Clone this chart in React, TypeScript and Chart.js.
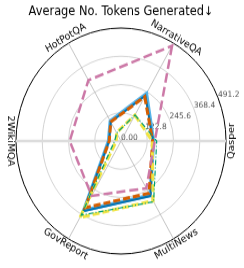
import { useEffect, useRef } from 'react';
import { Chart, registerables } from 'chart.js';

Chart.register(...registerables);

const TITLE = 'Average No. Tokens Generated↓';
const CATEGORIES = ['NarrativeQA', 'Qasper', 'MultiNews', 'GovReport', '2WikiMQA', 'HotPotQA'];
const TICK_VALUES = [0, 122.8, 245.6, 368.4, 491.2];
const TICK_LABELS = ['0.00', '122.8', '245.6', '368.4', '491.2'];

const PINK = [478, 158, 237, 275, 240, 305];
const SKY = [238, 152, 272, 348, 58, 100];
const BLUE = [228, 150, 276, 352, 56, 96];
const ORANGE = [222, 148, 262, 335, 55, 96];
const YELLOW = [130, 146, 300, 384, 22, 42];
const GREEN = [131, 167, 305, 372, 30, 40];

const FONT = '"DejaVu Sans", "Liberation Sans", sans-serif';

const labelPlugin = {
  id: 'customLabels',
  beforeDatasetsDraw(chart: any) {
    const scale = chart.scales.r;
    const ctx = chart.ctx;
    ctx.save();
    ctx.font = `7.5px ${FONT}`;
    ctx.fillStyle = '#555555';
    ctx.textAlign = 'left';
    ctx.textBaseline = 'bottom';
    const a = (-22.5 * Math.PI) / 180;
    TICK_VALUES.forEach((v, i) => {
      const d = scale.getDistanceFromCenterForValue(v);
      ctx.fillText(TICK_LABELS[i], scale.xCenter + Math.cos(a) * d, scale.yCenter + Math.sin(a) * d + 1);
    });
    ctx.restore();
  },
  afterDraw(chart: any) {
    const scale = chart.scales.r;
    const ctx = chart.ctx;
    ctx.save();
    ctx.fillStyle = '#000000';
    ctx.textAlign = 'center';
    ctx.textBaseline = 'middle';
    ctx.font = `11.4px ${FONT}`;
    ctx.fillText(TITLE, 121, 11);
    ctx.font = `9.4px ${FONT}`;
    CATEGORIES.forEach((lab, i) => {
      const p = scale.getPointPosition(i, scale.drawingArea + 5.5);
      const phi = (scale.getIndexAngle(i) * 180) / Math.PI;
      let rot = phi - 180;
      while (rot <= -180) rot += 360;
      while (rot > 180) rot -= 360;
      if (rot < -90) rot += 180;
      else if (rot > 90) rot -= 180;
      ctx.save();
      ctx.translate(p.x, p.y);
      ctx.rotate((rot * Math.PI) / 180);
      ctx.fillText(lab, 0, 0);
      ctx.restore();
    });
    ctx.restore();
  },
};

export default function App() {
  const ref = useRef<HTMLCanvasElement | null>(null);
  useEffect(() => {
    if (!ref.current) return;
    Chart.defaults.font.family = FONT;
    const ds = (label: string, data: number[], color: string, width: number, dash: number[]) => ({
      label,
      data,
      borderColor: color,
      backgroundColor: 'transparent',
      borderWidth: width,
      borderDash: dash,
      fill: false,
      pointRadius: 0,
      pointHoverRadius: 0,
    });
    const chart = new Chart(ref.current, {
      type: 'radar',
      data: {
        labels: CATEGORIES,
        datasets: [
          ds('pink', PINK, '#CC79A7', 2.5, [9, 4]),
          ds('green', GREEN, '#009E73', 1.2, [5, 2, 1, 2]),
          ds('yellow', YELLOW, '#F0E442', 3, [7, 3]),
          ds('orange', ORANGE, '#D55E00', 3, [7, 3]),
          ds('blue', BLUE, '#0072B2', 2, []),
          ds('sky', SKY, '#56B4E9', 3.5, []),
        ],
      },
      options: {
        responsive: false,
        animation: false,
        devicePixelRatio: 1,
        layout: { padding: { left: 16, right: 18, top: 26, bottom: 13 } },
        plugins: { legend: { display: false }, title: { display: false }, tooltip: { enabled: false } },
        elements: { line: { tension: 0 } },
        scales: {
          r: {
            min: 0,
            max: 491.2,
            startAngle: 30,
            afterBuildTicks: (scale: any) => {
              scale.ticks = TICK_VALUES.map((v) => ({ value: v }));
            },
            ticks: { display: false },
            pointLabels: { display: false },
            grid: {
              circular: true,
              color: (c: any) => (c.index === TICK_VALUES.length - 1 ? '#000000' : '#c8c8c8'),
              lineWidth: (c: any) => (c.index === TICK_VALUES.length - 1 ? 1 : 0.8),
            },
            angleLines: {
              color: (c: any) => (c.index === 1 || c.index === 4 ? '#dcdcdc' : '#b4b4b4'),
              lineWidth: (c: any) => (c.index === 1 || c.index === 4 ? 2.5 : 0.8),
            },
          },
        },
      },
      plugins: [labelPlugin],
    });
    return () => chart.destroy();
  }, []);
  return (
    <div style={{ position: 'fixed', left: 0, top: 0 }}>
      <canvas ref={ref} width={244} height={249} style={{ width: '244px', height: '268px', display: 'block' }} />
    </div>
  );
}
